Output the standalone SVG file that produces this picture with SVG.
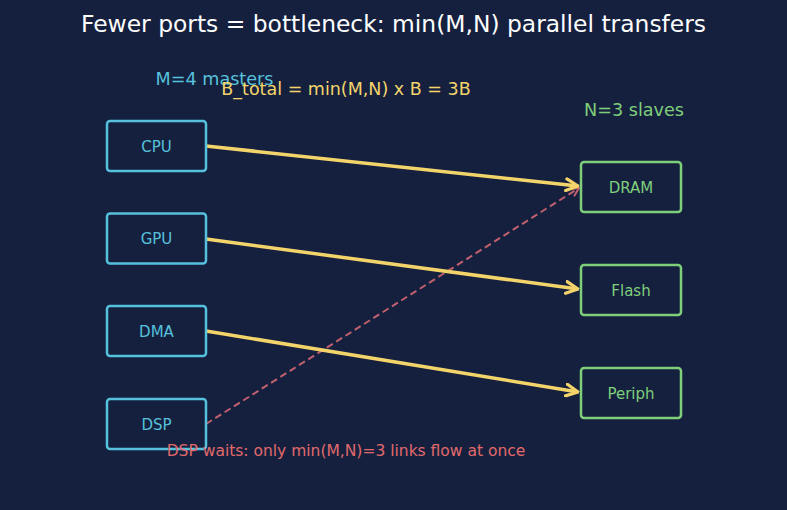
<svg xmlns="http://www.w3.org/2000/svg" width="787" height="510" viewBox="0 0 787 510">
<style>
text{font-family:"DejaVu Sans",sans-serif;text-anchor:middle}
.m rect{fill:#15203f;stroke:#56c1dc;stroke-width:2.5}
.m text{fill:#56c1dc;font-size:15px}
.s rect{fill:#15203f;stroke:#7fcf7a;stroke-width:2.5}
.s text{fill:#7fcf7a;font-size:15px}
.a{stroke:#f3d46a;stroke-width:3.5;fill:none}
.d{stroke:#c0606e;stroke-width:2;fill:none;stroke-dasharray:7 4}
</style>
<defs>
<marker id="ay" viewBox="0 0 10 10" refX="9" refY="5" markerWidth="4.2" markerHeight="4.2" orient="auto" markerUnits="strokeWidth"><path d="M1,1 L9,5 L1,9" fill="none" stroke="#f3d46a" stroke-width="2.2" stroke-linecap="round" stroke-linejoin="round"/></marker>
<marker id="ar" viewBox="0 0 10 10" refX="9" refY="5" markerWidth="5" markerHeight="5" orient="auto" markerUnits="strokeWidth"><path d="M1,1 L9,5 L1,9" fill="none" stroke="#c0606e" stroke-width="2" stroke-linecap="round"/></marker>
</defs>
<rect width="787" height="510" fill="#15203f"/>
<text x="393.5" y="32" fill="#ffffff" font-size="23.4">Fewer ports = bottleneck: min(M,N) parallel transfers</text>
<text x="214.5" y="85" fill="#56c1dc" font-size="17.6">M=4 masters</text>
<text x="634" y="116" fill="#7fcf7a" font-size="17.6">N=3 slaves</text>
<g id="connectors">
<line class="d" x1="206" y1="424" x2="579" y2="188" marker-end="url(#ar)"/>
<line class="a" x1="206" y1="146" x2="578" y2="186" marker-end="url(#ay)"/>
<line class="a" x1="206" y1="239" x2="578" y2="289" marker-end="url(#ay)"/>
<line class="a" x1="206" y1="331" x2="578" y2="392" marker-end="url(#ay)"/>
</g>
<text x="346" y="95" fill="#f3d46a" font-size="17.5">B_total = min(M,N) x B = 3B</text>
<g id="cpu" class="m"><rect x="107" y="121" width="99" height="50" rx="3"/><text x="156.5" y="151.5">CPU</text></g>
<g id="gpu" class="m"><rect x="107" y="213.5" width="99" height="50" rx="3"/><text x="156.5" y="244">GPU</text></g>
<g id="dma" class="m"><rect x="107" y="306" width="99" height="50" rx="3"/><text x="156.5" y="336.5">DMA</text></g>
<g id="dsp" class="m"><rect x="107" y="399" width="99" height="50" rx="3"/><text x="156.5" y="429.5">DSP</text></g>
<g id="dram" class="s"><rect x="581" y="162" width="100" height="50" rx="3"/><text x="631" y="192.5">DRAM</text></g>
<g id="flash" class="s"><rect x="581" y="265" width="100" height="50" rx="3"/><text x="631" y="295.5">Flash</text></g>
<g id="periph" class="s"><rect x="581" y="368" width="100" height="50" rx="3"/><text x="631" y="398.5">Periph</text></g>
<text x="346" y="455.5" fill="#e06a6a" font-size="15.5">DSP waits: only min(M,N)=3 links flow at once</text>
</svg>
